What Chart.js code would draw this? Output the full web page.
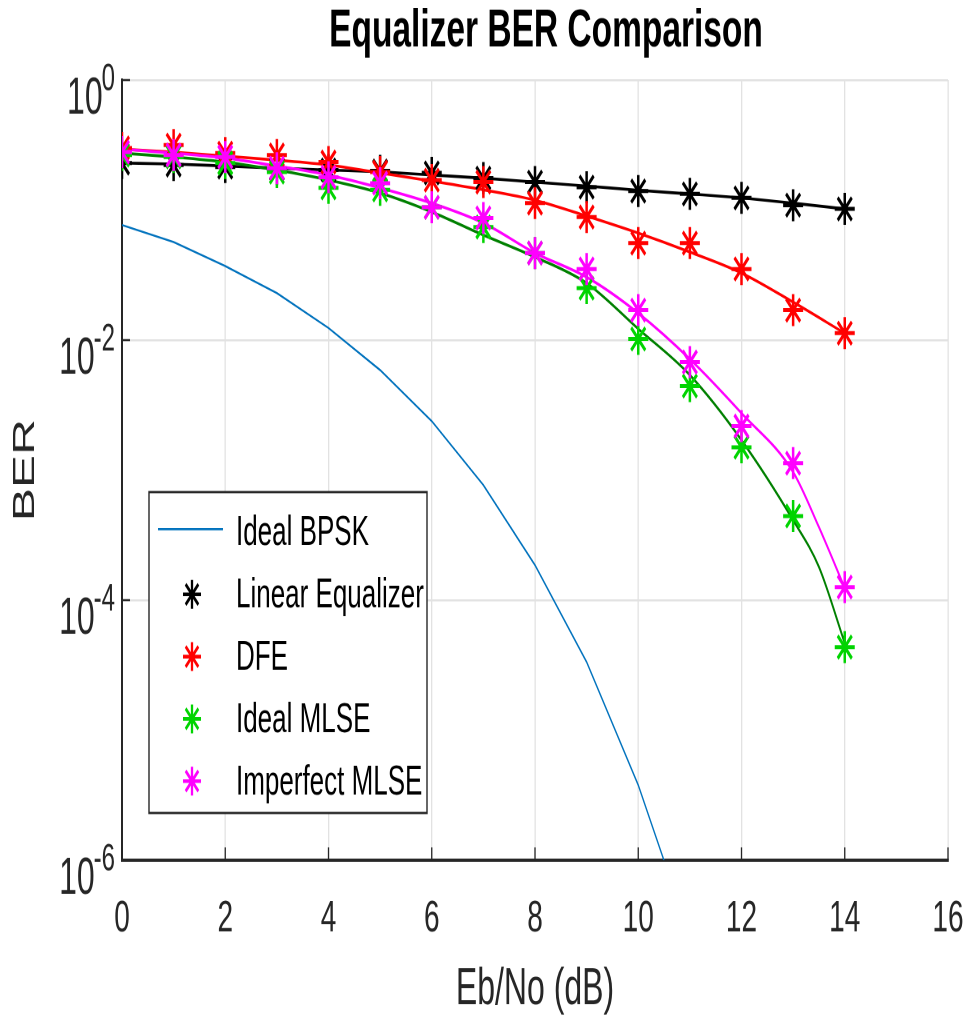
<!DOCTYPE html>
<html>
<head>
<meta charset="utf-8">
<script src="https://cdn.jsdelivr.net/npm/chart.js@4.4.1/dist/chart.umd.min.js"></script>
<style>
html,body{margin:0;padding:0;background:#fff;overflow:hidden}
/* the reference figure is stretched vertically, so draw at 973x638 and stretch */
#wrap{position:absolute;left:0;top:0;width:973px;height:638px;transform:scaleY(1.6003);transform-origin:0 0}
</style>
</head>
<body>
<div id="wrap"><canvas id="berChart"></canvas></div>
<script>
const FONT = "'Liberation Sans', Arial, sans-serif";
const TITLE = "Equalizer BER Comparison";

const ebno = [0,1,2,3,4,5,6,7,8,9,10,11,12,13,14];
const ebnoFine = [0,1,2,3,4,5,6,7,8,9,10,11,12,13,13.5,14];
const ebnoTheory = [0,1,2,3,4,5,6,7,8,9,10,11];
const xTicks = [0,2,4,6,8,10,12,14,16];
const yTicks = [1,1e-2,1e-4,1e-6];

// measured BER (markers)
const berLinear = [0.230,0.222,0.214,0.207,0.203,0.200,0.193,0.176,0.164,0.150,0.140,0.133,0.124,0.109,0.102];
const berDFE    = [0.300,0.316,0.274,0.265,0.234,0.196,0.170,0.164,0.113,0.0883,0.0557,0.0557,0.0352,0.0170,0.0113];
const berMLSE   = [0.265,0.256,0.230,0.196,0.148,0.143,0.105,0.074,0.0467,0.0251,0.0102,0.00443,0.00150,0.000443,0.0000435];
const berImpMLSE= [0.279,0.265,0.256,0.210,0.179,0.161,0.105,0.0868,0.0467,0.0352,0.0170,0.00677,0.00218,0.00113,0.000126];

// fitted curves
const fitLinear = [0.230,0.226,0.218,0.210,0.203,0.197,0.186,0.176,0.164,0.153,0.142,0.133,0.124,0.113,0.102];
const fitDFE    = [0.294,0.279,0.260,0.242,0.222,0.193,0.167,0.143,0.119,0.0899,0.0665,0.0475,0.0328,0.0196,0.0113];
const fitMLSE   = [0.274,0.256,0.234,0.203,0.170,0.135,0.0966,0.0642,0.0435,0.0274,0.0122,0.00538,0.00170,0.000412,0.000180,0.0000467];
const fitImpMLSE= [0.294,0.274,0.251,0.218,0.186,0.148,0.113,0.0794,0.0467,0.0305,0.0161,0.00714,0.00274,0.000966,0.000364,0.000124];

// ideal BPSK
const berBPSK = [0.0767,0.0567,0.0371,0.0230,0.0124,0.00588,0.00238,0.000767,0.000186,0.0000334,0.00000378,0.00000026];

const pts = (xs, ys) => xs.map((x,i)=>({x, y:ys[i]}));

function markers(label, color, ys){
  return {label, data:pts(ebno, ys), showLine:false, pointStyle:"star",
    pointRadius:10, pointBorderWidth:2.5, borderColor:color, backgroundColor:color,
    pointBorderColor:color, pointBackgroundColor:color};
}
function fit(color, xs, ys){
  return {label:"", data:pts(xs, ys), borderColor:color, borderWidth:1.8,
    pointRadius:0, cubicInterpolationMode:"monotone", fill:false};
}

// first dataset is drawn on top
const datasets = [
  markers("Imperfect MLSE", "#ff00ff", berImpMLSE),
  markers("Ideal MLSE", "#00d400", berMLSE),
  markers("DFE", "#ff0000", berDFE),
  markers("Linear Equalizer", "#000000", berLinear),
  fit("#ff00ff", ebnoFine, fitImpMLSE),
  fit("#008000", ebnoFine, fitMLSE),
  fit("#ff0000", ebno, fitDFE),
  fit("#000000", ebno, fitLinear),
  {label:"Ideal BPSK", data:pts(ebnoTheory, berBPSK), borderColor:"#0072bd",
    borderWidth:1.3, pointRadius:0, tension:0, fill:false}
];

const legendItems = [
  {label:"Ideal BPSK", color:"#0072bd", line:true},
  {label:"Linear Equalizer", color:"#000000"},
  {label:"DFE", color:"#ff0000"},
  {label:"Ideal MLSE", color:"#00d400"},
  {label:"Imperfect MLSE", color:"#ff00ff"}
];

const decorations = {
  id:"decorations",
  afterDraw(chart){
    const ctx = chart.ctx, x = chart.scales.x, y = chart.scales.y;
    const area = chart.chartArea;
    ctx.save();
    // title, centred a little right of the plot centre like the reference
    ctx.fillStyle = "#000";
    ctx.font = "bold 33.5px " + FONT;
    ctx.textAlign = "center"; ctx.textBaseline = "middle";
    ctx.fillText(TITLE, (area.left+area.right)/2 + 11, 20);

    // inward tick marks
    ctx.strokeStyle = "#262626"; ctx.lineWidth = 1.3;
    ctx.beginPath();
    x.ticks.forEach(t=>{
      const px = x.getPixelForValue(t.value);
      ctx.moveTo(px, area.bottom); ctx.lineTo(px, area.bottom-8);
    });
    y.ticks.forEach(t=>{
      const py = y.getPixelForValue(t.value);
      ctx.moveTo(area.left, py); ctx.lineTo(area.left+8, py);
    });
    ctx.stroke();

    // y tick labels 10^n
    ctx.fillStyle = "#262626";
    ctx.textBaseline = "alphabetic";
    y.ticks.forEach(t=>{
      const py = y.getPixelForValue(t.value);
      const ex = String(Math.round(Math.log10(t.value)));
      ctx.font = "24px " + FONT;
      ctx.textAlign = "right";
      const right = area.left - 7;
      ctx.fillText(ex, right, py + 6.5);
      const w = ctx.measureText(ex).width;
      ctx.font = "32px " + FONT;
      ctx.fillText("10", right - w + 1, py + 20.8);
    });

    // legend box
    const bx = 149, by = 307.5, bw = 278, bh = 200.5;
    ctx.fillStyle = "#fff";
    ctx.fillRect(bx, by, bw, bh);
    ctx.strokeStyle = "#262626"; ctx.lineWidth = 1.4;
    ctx.strokeRect(bx, by, bw, bh);
    ctx.font = "26px " + FONT;
    ctx.textAlign = "left"; ctx.textBaseline = "middle";
    legendItems.forEach((it,i)=>{
      const cy = 332.5 + 38.9*i;
      if(it.line){
        ctx.strokeStyle = it.color; ctx.lineWidth = 1.3;
        ctx.beginPath(); ctx.moveTo(158, cy-1.8); ctx.lineTo(223, cy-1.8); ctx.stroke();
      } else {
        ctx.strokeStyle = it.color; ctx.fillStyle = it.color; ctx.lineWidth = 2.3;
        Chart.helpers.drawPoint(ctx, {pointStyle:"star", radius:9, rotation:0, borderWidth:2.3}, 192, cy);
      }
      ctx.fillStyle = "#000";
      ctx.fillText(it.label, 236, cy + 1);
    });
    ctx.restore();
  }
};

new Chart(document.getElementById("berChart"), {
  type:"line",
  data:{datasets},
  options:{
    responsive:true, maintainAspectRatio:false, animation:false,
    devicePixelRatio:2,
    events:[],
    layout:{padding:{left:0, right:25, top:50, bottom:0}},
    plugins:{
      legend:{display:false},
      tooltip:{enabled:false},
      title:{display:false}
    },
    scales:{
      x:{type:"linear", min:0, max:16,
        afterBuildTicks:s=>{ s.ticks = xTicks.map(v=>({value:v})); },
        afterFit:s=>{ s.height = 100.5; s.paddingLeft = 0; s.paddingRight = 0; },
        ticks:{font:{family:FONT, size:28}, color:"#262626", padding:20},
        grid:{color:"#e2e2e2", lineWidth:1.3, drawTicks:false},
        border:{display:true, color:"#262626", width:2},
        title:{display:true, text:"Eb/No (dB)", color:"#262626",
          font:{family:FONT, size:32}, padding:{top:0, bottom:0}}
      },
      y:{type:"logarithmic", min:1e-6, max:1,
        afterBuildTicks:s=>{ s.ticks = yTicks.map(v=>({value:v})); },
        afterFit:s=>{ s.width = 122; s.paddingTop = 0; s.paddingBottom = 0; },
        ticks:{display:false},
        grid:{color:"#e2e2e2", lineWidth:1.3, drawTicks:false},
        border:{display:true, color:"#262626", width:2},
        title:{display:true, text:"BER", color:"#262626",
          font:{family:FONT, size:31}, padding:{top:7, bottom:0}}
      }
    }
  },
  plugins:[decorations]
});
</script>
</body>
</html>
